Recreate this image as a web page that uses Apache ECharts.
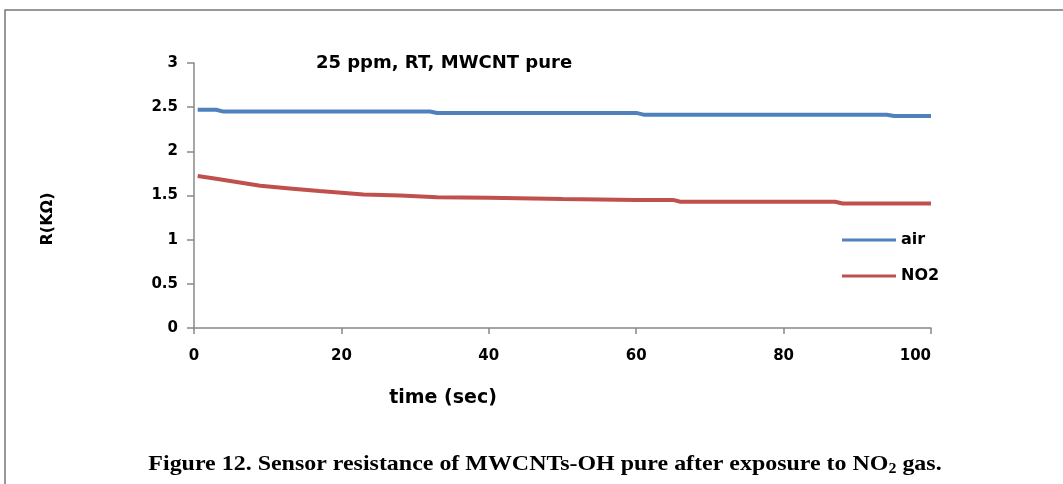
<!DOCTYPE html>
<html>
<head>
<meta charset="utf-8">
<script src="https://cdn.jsdelivr.net/npm/echarts@6/dist/echarts.min.js"></script>
<style>
html, body { margin: 0; padding: 0; background: #fff; }
#main { width: 1063px; height: 484px; }
</style>
</head>
<body>
<div id="main"></div>
<script>
// air resistance (kOhm) vs time (sec)
var airData = [[0.5, 2.47], [3, 2.47], [4, 2.45], [32, 2.45], [33, 2.435], [60, 2.435],
    [61, 2.415], [94, 2.415], [95, 2.40], [100, 2.40]];
// NO2 exposure
var no2Data = [[0.5, 1.72], [3, 1.69], [6, 1.65], [9, 1.61], [13, 1.58], [17, 1.55],
    [20, 1.53], [23, 1.51], [28, 1.50], [33, 1.48], [40, 1.475], [50, 1.46],
    [60, 1.45], [65, 1.45], [66, 1.43], [87, 1.43], [88, 1.41], [100, 1.41]];
var seriesNames = ['air', 'NO2'];
var chartTitle = '25 ppm, RT, MWCNT pure';
var xName = 'time (sec)';
var yName = 'R(KΩ)';

var FONT = 'DejaVu Sans';

var option = {
    animation: false,
    backgroundColor: '#fff',
    grid: { left: 194, right: 132, top: 63, bottom: 156 },
    legend: {
        orient: 'vertical',
        left: 842,
        top: 232,
        padding: 0,
        itemWidth: 54,
        itemHeight: 3,
        itemGap: 20,
        icon: 'rect',
        data: seriesNames,
        textStyle: { fontFamily: FONT, fontWeight: 'bold', fontSize: 16, color: '#000' }
    },
    xAxis: {
        type: 'value',
        min: 0,
        max: 100,
        interval: 20,
        axisLine: { lineStyle: { color: '#888', width: 1.5 } },
        axisTick: { length: 6, lineStyle: { color: '#888', width: 1.5 } },
        axisLabel: { fontFamily: FONT, fontWeight: 'bold', fontSize: 15, color: '#000', margin: 21, alignMaxLabel: 'right' },
        splitLine: { show: false }
    },
    yAxis: {
        type: 'value',
        min: 0,
        max: 3,
        interval: 0.5,
        axisLine: { show: true, lineStyle: { color: '#888', width: 1.5 } },
        axisTick: { show: true, length: 7, lineStyle: { color: '#888', width: 1.5 } },
        axisLabel: { fontFamily: FONT, fontWeight: 'bold', fontSize: 15, color: '#000', margin: 16 },
        splitLine: { show: false }
    },
    series: [{
        name: seriesNames[0],
        type: 'line',
        data: airData,
        showSymbol: false,
        color: '#4F81BD',
        lineStyle: { width: 4, color: '#4F81BD' }
    }, {
        name: seriesNames[1],
        type: 'line',
        data: no2Data,
        showSymbol: false,
        color: '#C0504D',
        lineStyle: { width: 4, color: '#C0504D' }
    }],
    graphic: [{
        type: 'rect',
        shape: { x: 5, y: 10, width: 1100, height: 520 },
        style: { fill: 'none', stroke: '#777', lineWidth: 1.5 },
        silent: true
    }, {
        type: 'text',
        x: 444, y: 63,
        style: {
            text: chartTitle, x: 0, y: 0, align: 'center', verticalAlign: 'middle',
            fontFamily: FONT, fontWeight: 'bold', fontSize: 18, fill: '#000'
        }
    }, {
        type: 'text',
        x: 443, y: 398,
        style: {
            text: xName, x: 0, y: 0, align: 'center', verticalAlign: 'middle',
            fontFamily: FONT, fontWeight: 'bold', fontSize: 19, fill: '#000'
        }
    }, {
        type: 'text',
        x: 48, y: 219,
        rotation: Math.PI / 2,
        style: {
            text: yName, x: 0, y: 0, align: 'center', verticalAlign: 'middle',
            fontFamily: FONT, fontWeight: 'bold', fontSize: 16, fill: '#000'
        }
    }, {
        type: 'text',
        x: 545, y: 465,
        scaleX: 1.14,
        style: {
            text: '{n|Figure 12. Sensor resistance of MWCNTs-OH pure after exposure to NO}{s|2}{n| gas.}',
            x: 0, y: 0, align: 'center', verticalAlign: 'middle',
            rich: {
                n: { fontFamily: 'Liberation Serif', fontWeight: 'bold', fontSize: 21, fill: '#000' },
                s: { fontFamily: 'Liberation Serif', fontWeight: 'bold', fontSize: 14, fill: '#000', padding: [9, 0, 0, 0] }
            }
        }
    }]
};
var myChart = echarts.init(document.getElementById('main'));
myChart.setOption(option);
</script>
</body>
</html>
